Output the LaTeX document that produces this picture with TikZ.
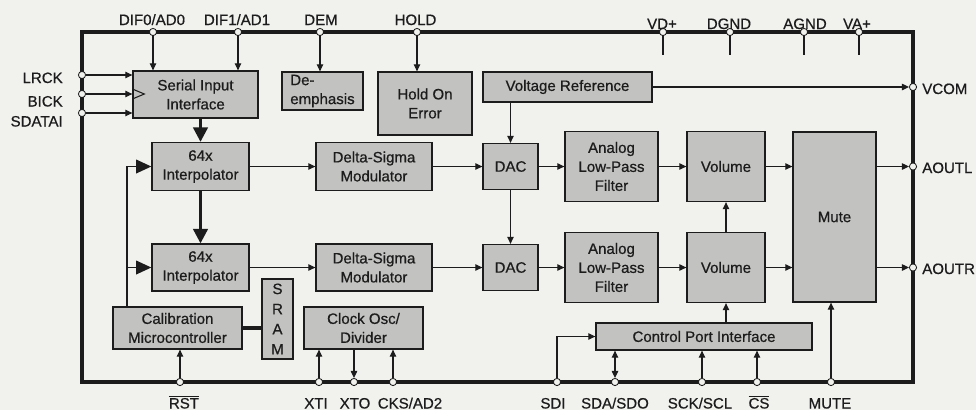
\documentclass[tikz,border=0pt]{standalone}
\usepackage{fontspec}
\setmainfont{Liberation Sans}[UprightFeatures={FakeBold=0.6}]
\usetikzlibrary{arrows.meta,positioning,calc}
\definecolor{paper}{HTML}{F1F1EE}
\definecolor{shade}{HTML}{C2C2C0}
\definecolor{ink}{HTML}{1C1C1C}

\begin{document}
\begin{tikzpicture}[x=0.025cm, y=-0.025cm, font=\fontsize{10.7}{13.5}\selectfont,
 blk/.style={draw=ink,line width=0.9pt,fill=shade,align=center,inner sep=1pt,text=ink},
 pin/.style={circle,draw=ink,line width=0.6pt,fill=paper,inner sep=0pt,minimum size=0.18cm},
 lbl/.style={inner sep=0pt,text=ink},
 wire/.style={draw=ink,line width=0.75pt},
 arr/.style={wire,-{Triangle[length=5pt,width=4.6pt]}},
 barr/.style={wire,{Triangle[length=5pt,width=4.6pt]}-{Triangle[length=5pt,width=4.6pt]}},
 bigarr/.style={draw=ink,line width=2pt,-{Triangle[length=0.36cm,width=0.36cm]}},
 fbline/.style={draw=ink,line width=1.2pt},
 fbarr/.style={fbline,-{Triangle[length=0.38cm,width=0.34cm]}}]
\fill[paper] (0,0) rectangle (976,410);
\node[draw=ink,line width=2.8pt,minimum width=20.775cm,minimum height=8.75cm,inner sep=0pt] (chip) at (497.5,207) {};

\node[blk,minimum width=3.125cm,minimum height=1.175cm] (sii) at (195.5,94.5) {Serial Input\\Interface};
\node[blk,align=left,minimum width=2.025cm,minimum height=0.95cm] (dem) at (322.5,91) {De-\\emphasis};
\node[blk,minimum width=2.35cm,minimum height=1.575cm] (hold) at (425,103.5) {Hold On\\Error};
\node[blk,minimum width=4.225cm,minimum height=0.75cm] (vref) at (567.5,87) {Voltage Reference};
\node[blk,minimum width=2.425cm,minimum height=1.2cm] (int1) at (200.5,166.5) {64x\\Interpolator};
\node[blk,minimum width=2.425cm,minimum height=1.175cm] (int2) at (200.5,267.5) {64x\\Interpolator};
\node[blk,minimum width=2.9cm,minimum height=1.2cm] (dsm1) at (374,166.5) {Delta-Sigma\\Modulator};
\node[blk,minimum width=2.9cm,minimum height=1.175cm] (dsm2) at (374,267.5) {Delta-Sigma\\Modulator};
\node[blk,minimum width=1.375cm,minimum height=1.15cm] (dac1) at (510.5,166.5) {DAC};
\node[blk,minimum width=1.375cm,minimum height=1.15cm] (dac2) at (510.5,267.5) {DAC};
\node[blk,minimum width=2.325cm,minimum height=1.75cm] (lpf1) at (611.5,166.5) {Analog\\Low-Pass\\Filter};
\node[blk,minimum width=2.325cm,minimum height=1.75cm] (lpf2) at (611.5,267.5) {Analog\\Low-Pass\\Filter};
\node[blk,minimum width=1.95cm,minimum height=1.75cm] (vol1) at (726,166.5) {Volume};
\node[blk,minimum width=1.95cm,minimum height=1.75cm] (vol2) at (726,267.5) {Volume};
\node[blk,minimum width=2.075cm,minimum height=4.25cm] (mute) at (834.5,217) {Mute};
\node[blk,minimum width=3.225cm,minimum height=1.05cm] (cal) at (177.5,328) {Calibration\\Microcontroller};
\node[blk,font=\fontsize{10.7}{14.3}\selectfont,minimum width=0.775cm,minimum height=2cm] (sram) at (277.5,319) {S\\R\\A\\M};
\node[blk,minimum width=2.975cm,minimum height=1.05cm] (clk) at (363.5,328) {Clock Osc/\\Divider};
\node[blk,minimum width=5.4cm,minimum height=0.675cm] (cpi) at (704,336.5) {Control Port Interface};

\node[pin] (pdif0) at (153,32) {};
\node[pin] (pdif1) at (238,32) {};
\node[pin] (pdem) at (320,32) {};
\node[pin] (phold) at (417,32) {};
\node[pin] (pvd) at (663,32) {};
\node[pin] (pdgnd) at (730,32) {};
\node[pin] (pagnd) at (804,32) {};
\node[pin] (pva) at (859,32) {};
\node[pin] (plrck) at (82,75) {};
\node[pin] (pbick) at (82,94) {};
\node[pin] (psdata) at (82,113) {};
\node[pin] (pvcom) at (913,87) {};
\node[pin] (paoutl) at (913,166.5) {};
\node[pin] (paoutr) at (913,267.5) {};
\node[pin] (prst) at (180,382) {};
\node[pin] (pxti) at (319,382) {};
\node[pin] (pxto) at (354,382) {};
\node[pin] (pcks) at (393,382) {};
\node[pin] (psdi) at (557,382) {};
\node[pin] (psda) at (615,382) {};
\node[pin] (psck) at (702,382) {};
\node[pin] (pcs) at (757,382) {};
\node[pin] (pmute) at (831,382) {};

\node[lbl,anchor=base] (ldif0) at (152,25) {DIF0/AD0};
\node[lbl,anchor=base] (ldif1) at (237,25) {DIF1/AD1};
\node[lbl,anchor=base] (ldem) at (321,25) {DEM};
\node[lbl,anchor=base] (lhold) at (415.5,25) {HOLD};
\node[lbl,anchor=base] (lvd) at (662,29) {VD+};
\node[lbl,anchor=base] (ldgnd) at (729,29) {DGND};
\node[lbl,anchor=base] (lagnd) at (805,29) {AGND};
\node[lbl,anchor=base] (lva) at (857,29) {VA+};
\node[lbl,anchor=base east] (llrck) at (63,83) {LRCK};
\node[lbl,anchor=base east] (lbick) at (63,106.5) {BICK};
\node[lbl,anchor=base east] (lsdata) at (63,126.5) {SDATAI};
\node[lbl,anchor=base west] (lvcom) at (922,94) {VCOM};
\node[lbl,anchor=base west] (laoutl) at (922,173) {AOUTL};
\node[lbl,anchor=base west] (laoutr) at (922,274) {AOUTR};
\node[lbl,anchor=base] (lrst) at (184,408.5) {$\overline{\hbox{RST}}$};
\node[lbl,anchor=base] (lxti) at (316,408.5) {XTI};
\node[lbl,anchor=base] (lxto) at (355,408.5) {XTO};
\node[lbl,anchor=base] (lcks) at (410,408.5) {CKS/AD2};
\node[lbl,anchor=base] (lsdi) at (553,408.5) {SDI};
\node[lbl,anchor=base] (lsda) at (615,408.5) {SDA/SDO};
\node[lbl,anchor=base] (lsck) at (700,408.5) {SCK/SCL};
\node[lbl,anchor=base] (lcs) at (759,408.5) {$\overline{\hbox{CS}}$};
\node[lbl,anchor=base] (lmute) at (830,408.5) {MUTE};

\draw[arr] (pdif0) -- (pdif0 |- sii.north); \draw[arr] (pdif1) -- (pdif1 |- sii.north);
\draw[arr] (pdem) -- (pdem |- dem.north); \draw[arr] (phold) -- (phold |- hold.north);
\draw[wire] (pvd) -- ++(0,23); \draw[wire] (pdgnd) -- ++(0,23);
\draw[wire] (pagnd) -- ++(0,23); \draw[wire] (pva) -- ++(0,23);
\draw[arr] (plrck) -- (plrck -| sii.west); \draw[arr] (pbick) -- (pbick -| sii.west);
\draw[arr] (psdata) -- (psdata -| sii.west);
\draw[wire] ($(pbick -| sii.west)+(0,-5)$) -- ($(pbick -| sii.west)+(12,0)$) -- ($(pbick -| sii.west)+(0,5)$);
\draw[bigarr] (int1.north |- sii.south) -- (int1.north); \draw[bigarr] (int1.south) -- (int2.north);
\coordinate (fb) at (127,166.5);
\draw[fbarr] (fb |- cal.north) -- (fb) -- (int1.west); \draw[fbarr] (fb |- int2.west) -- (int2.west);
\draw[line width=2.6pt,ink] (cal.east) -- (cal.east -| sram.west);
\draw[arr] (int1.east) -- (dsm1.west); \draw[arr] (dsm1.east) -- (dac1.west);
\draw[arr] (dac1.east) -- (lpf1.west); \draw[arr] (lpf1.east) -- (vol1.west);
\draw[arr] (vol1.east) -- (vol1.east -| mute.west); \draw[arr] (mute.east |- paoutl) -- (paoutl);
\draw[arr] (int2.east) -- (dsm2.west); \draw[arr] (dsm2.east) -- (dac2.west);
\draw[arr] (dac2.east) -- (lpf2.west); \draw[arr] (lpf2.east) -- (vol2.west);
\draw[arr] (vol2.east) -- (vol2.east -| mute.west); \draw[arr] (mute.east |- paoutr) -- (paoutr);
\draw[arr] (vref.east) -- (pvcom); \draw[arr] (dac1.north |- vref.south) -- (dac1.north);
\draw[arr] (dac1.south) -- (dac2.north); \draw[arr] (vol2.north) -- (vol1.south);
\draw[arr] (vol2.south |- cpi.north) -- (vol2.south);
\draw[arr] (prst) -- (prst |- cal.south);
\draw[arr] (pxti) -- (pxti |- clk.south); \draw[arr] (pxto |- clk.south) -- (pxto);
\draw[arr] (pcks) -- (pcks |- clk.south);
\draw[arr] (psdi) |- (cpi.west); \draw[barr] (psda) -- (psda |- cpi.south);
\draw[arr] (psck) -- (psck |- cpi.south); \draw[arr] (pcs) -- (pcs |- cpi.south);
\draw[arr] (pmute) -- (pmute |- mute.south);
\end{tikzpicture}
\end{document}
